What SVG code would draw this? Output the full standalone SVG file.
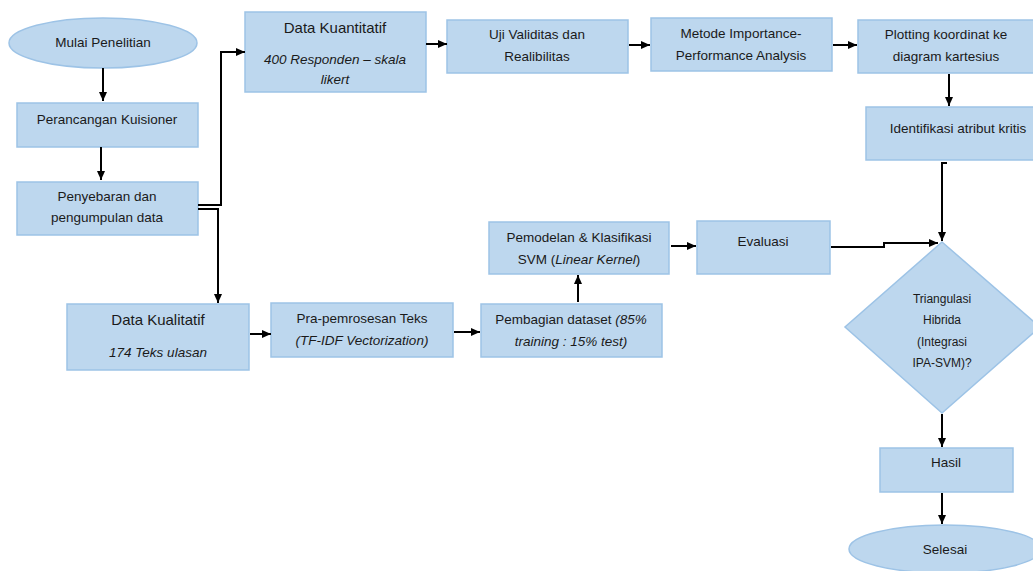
<svg xmlns="http://www.w3.org/2000/svg" width="1033" height="571" viewBox="0 0 1033 571">
<style>
.box{fill:#BDD7EE;stroke:#9DC3E6;stroke-width:1.5}
.t{font-family:"Liberation Sans",Arial,sans-serif;font-size:13.5px;fill:#1a1a1a;text-anchor:middle}
.h{font-size:15px}
.s{font-size:12px}
.i{font-style:italic}
.c{fill:none;stroke:#000;stroke-width:2;marker-end:url(#ah)}
</style>
<defs>
<marker id="ah" markerUnits="userSpaceOnUse" markerWidth="9" markerHeight="8" refX="9" refY="4" viewBox="0 0 9 8" orient="auto">
<path d="M0,0 L9,4 L0,8 z" fill="#000"/>
</marker>
</defs>
<rect width="1033" height="571" fill="#fff"/>
<g id="mulai"><ellipse class="box" cx="103" cy="43" rx="94" ry="25"/><text class="t" x="103" y="47">Mulai Penelitian</text></g>
<g id="perancangan"><rect class="box" x="17" y="103" width="181" height="44"/><text class="t" x="107" y="124">Perancangan Kuisioner</text></g>
<g id="penyebaran"><rect class="box" x="17" y="182" width="181" height="53"/><text class="t" x="107" y="201">Penyebaran dan</text><text class="t" x="107" y="222">pengumpulan data</text></g>
<g id="kuantitatif"><rect class="box" x="245" y="12" width="181" height="80"/><text class="t h" x="335" y="33">Data Kuantitatif</text><text class="t i" x="335" y="64">400 Responden – skala</text><text class="t i" x="335" y="84">likert</text></g>
<g id="uji"><rect class="box" x="447" y="20" width="181" height="53"/><text class="t" x="537" y="39">Uji Validitas dan</text><text class="t" x="537" y="61">Realibilitas</text></g>
<g id="metode"><rect class="box" x="651" y="18" width="181" height="53"/><text class="t" x="741" y="38">Metode Importance-</text><text class="t" x="741" y="60">Performance Analysis</text></g>
<g id="plotting"><rect class="box" x="858" y="20" width="182" height="53"/><text class="t" x="946" y="39">Plotting koordinat ke</text><text class="t" x="946" y="61">diagram kartesius</text></g>
<g id="identifikasi"><rect class="box" x="866" y="107" width="175" height="53"/><text class="t" x="958" y="133">Identifikasi atribut kritis</text></g>
<g id="kualitatif"><rect class="box" x="67" y="304" width="182" height="66"/><text class="t h" x="158" y="325">Data Kualitatif</text><text class="t i" x="158" y="357">174 Teks ulasan</text></g>
<g id="pra"><rect class="box" x="271" y="303" width="182" height="54"/><text class="t" x="362" y="323">Pra-pemrosesan Teks</text><text class="t i" x="362" y="345">(TF-IDF Vectorization)</text></g>
<g id="pembagian"><rect class="box" x="481" y="304" width="181" height="53"/><text class="t" x="571" y="324">Pembagian dataset <tspan class="i">(85%</tspan></text><text class="t i" x="571" y="346">training : 15% test)</text></g>
<g id="pemodelan"><rect class="box" x="489" y="222" width="180" height="52"/><text class="t" x="579" y="242">Pemodelan &amp; Klasifikasi</text><text class="t" x="579" y="264">SVM (<tspan class="i">Linear Kernel</tspan>)</text></g>
<g id="evaluasi"><rect class="box" x="697" y="221" width="133" height="53"/><text class="t" x="763" y="246">Evaluasi</text></g>
<g id="triangulasi"><polygon class="box" points="942,242 1040,327 942,413 845,327"/><text class="t s" x="942" y="303">Triangulasi</text><text class="t s" x="942" y="324">Hibrida</text><text class="t s" x="942" y="346">(Integrasi</text><text class="t s" x="942" y="367">IPA-SVM)?</text></g>
<g id="hasil"><rect class="box" x="880" y="448" width="133" height="44"/><text class="t" x="946" y="467">Hasil</text></g>
<g id="selesai"><ellipse class="box" cx="945" cy="549" rx="96" ry="24"/><text class="t" x="945" y="554">Selesai</text></g>
<g id="connectors">
<path class="c" d="M103,68 V101"/>
<path class="c" d="M101,147 V180"/>
<path class="c" d="M198,205 H221 V52 H245"/>
<path class="c" d="M198,209 H218 V303"/>
<path class="c" d="M426,44 H447"/>
<path class="c" d="M629,45 H650"/>
<path class="c" d="M833,45 H857"/>
<path class="c" d="M949,74 V106"/>
<path class="c" d="M947,163 H942 V241"/>
<path class="c" d="M250,334 H271"/>
<path class="c" d="M454,332 H480"/>
<path class="c" d="M578,302 V275"/>
<path class="c" d="M671,246 H696"/>
<path class="c" d="M831,247 H884 V243 H938"/>
<path class="c" d="M942,414 V447"/>
<path class="c" d="M942,493 V524"/>
</g>
</svg>
